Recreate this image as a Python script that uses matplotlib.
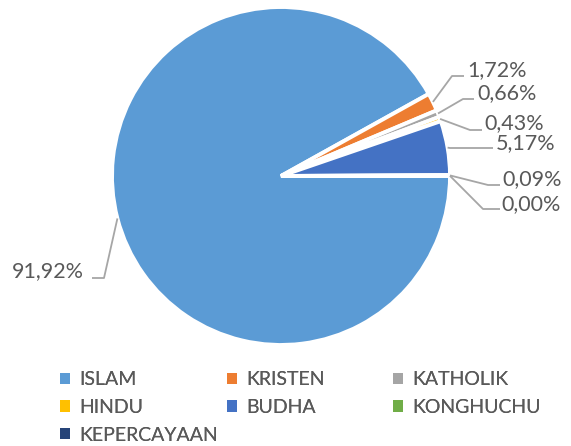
import numpy as np, matplotlib
matplotlib.use("Agg"); import matplotlib.pyplot as plt
from matplotlib.patches import Patch

labels = ["ISLAM", "KRISTEN", "KATHOLIK", "HINDU", "BUDHA", "KONGHUCHU", "KEPERCAYAAN"]
values = [91.92, 1.72, 0.66, 0.43, 5.17, 0.09, 0.00]
colors = ["#5B9BD5", "#ED7D31", "#A5A5A5", "#FFC000", "#4472C4", "#70AD47", "#264478"]

W, H = 571, 446
plt.rcParams["font.family"] = ["Lato", "DejaVu Sans"]
TXT = "#595959"; LINE = "#A6A6A6"

fig = plt.figure(figsize=(W/100, H/100), dpi=100)
ax = fig.add_axes([0, 0, 1, 1])
cx, cy, R = 281, H-176, 169
ax.pie(values, colors=colors, startangle=0, counterclock=False, radius=R, center=(cx, cy),
       wedgeprops=dict(edgecolor="white", linewidth=2.8), frame=False)
ax.set_xlim(0, W); ax.set_ylim(0, H); ax.set_aspect("equal"); ax.axis("off")

# label layout (pixel coords, y down): knee, line end, text anchor
lay = [((104, 278), (92, 278), (84, 271), "right"),
       ((452, 76), (464, 76), (467, 70), "left"),
       ((463, 99), (474, 99), (477, 93), "left"),
       ((470, 130), (482, 130), (484, 123), "left"),
       ((450, 148), (493, 148), (496, 143), "left"),
       ((488, 185), (500, 185), (502, 179), "left"),
       ((483, 209), (500, 209), (501, 204), "left")]

cum = np.cumsum([0] + values)
for i, v in enumerate(values):
    mid = -np.deg2rad((cum[i] + v/2) * 3.6)
    ax_, ay_ = cx + R*np.cos(mid), cy + R*np.sin(mid)
    knee, end, tpos, ha = lay[i]
    ax.plot([ax_, knee[0], end[0]], [ay_, H-knee[1], H-end[1]], color=LINE, lw=1.3,
            solid_capstyle="butt", zorder=1)
    ax.text(tpos[0], H-tpos[1], f"{v:.2f}%".replace(".", ","), ha=ha, va="center",
            fontsize=15.5, color=TXT)

# legend: row-major, 3 columns, one legend per column
col_x = [60, 227, 393]
for c in range(3):
    idx = list(range(c, len(labels), 3))
    hs = [Patch(facecolor=colors[i], edgecolor="none") for i in idx]
    leg = fig.legend(hs, [labels[i] for i in idx], loc="upper left",
                     bbox_to_anchor=(col_x[c]/W, 1-371/H), frameon=False, fontsize=14,
                     labelcolor=TXT, handlelength=0.5, handleheight=0.5,
                     handletextpad=0.5, labelspacing=0.56, borderpad=0, borderaxespad=0)
    fig.add_artist(leg)

fig.savefig("out.png", dpi=100)
